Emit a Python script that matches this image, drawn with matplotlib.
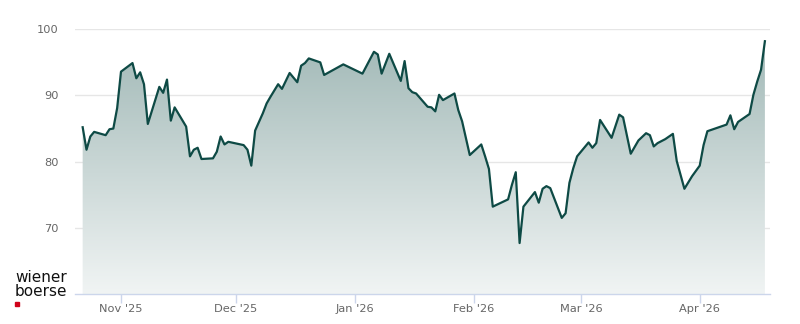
import numpy as np
import pandas as pd
import matplotlib
matplotlib.use('Agg')
import matplotlib.pyplot as plt
import matplotlib.dates as mdates

# Kursverlauf
dates = [
    '2025-10-22', '2025-10-23', '2025-10-24', '2025-10-25', '2025-10-28',
    '2025-10-29', '2025-10-30', '2025-10-31', '2025-11-01', '2025-11-04',
    '2025-11-05', '2025-11-06', '2025-11-07', '2025-11-08', '2025-11-11',
    '2025-11-12', '2025-11-13', '2025-11-14', '2025-11-15', '2025-11-18',
    '2025-11-19', '2025-11-20', '2025-11-21', '2025-11-22', '2025-11-25',
    '2025-11-26', '2025-11-27', '2025-11-28', '2025-11-29', '2025-12-03',
    '2025-12-04', '2025-12-05', '2025-12-06', '2025-12-08', '2025-12-09',
    '2025-12-10', '2025-12-12', '2025-12-13', '2025-12-15', '2025-12-17',
    '2025-12-18', '2025-12-19', '2025-12-20', '2025-12-23', '2025-12-24',
    '2025-12-29', '2026-01-03', '2026-01-06', '2026-01-07', '2026-01-08',
    '2026-01-10', '2026-01-13', '2026-01-14', '2026-01-15', '2026-01-16',
    '2026-01-17', '2026-01-20', '2026-01-21', '2026-01-22', '2026-01-23',
    '2026-01-24', '2026-01-27', '2026-01-28', '2026-01-29', '2026-01-31',
    '2026-02-03', '2026-02-04', '2026-02-05', '2026-02-06', '2026-02-10',
    '2026-02-11', '2026-02-12', '2026-02-13', '2026-02-14', '2026-02-17',
    '2026-02-18', '2026-02-19', '2026-02-20', '2026-02-21', '2026-02-24',
    '2026-02-25', '2026-02-26', '2026-02-27', '2026-02-28', '2026-03-03',
    '2026-03-04', '2026-03-05', '2026-03-06', '2026-03-09', '2026-03-11',
    '2026-03-12', '2026-03-14', '2026-03-16', '2026-03-18', '2026-03-19',
    '2026-03-20', '2026-03-21', '2026-03-23', '2026-03-25', '2026-03-26',
    '2026-03-28', '2026-03-30', '2026-04-01', '2026-04-02', '2026-04-03',
    '2026-04-08', '2026-04-09', '2026-04-10', '2026-04-11', '2026-04-14',
    '2026-04-15', '2026-04-16', '2026-04-17', '2026-04-18',
]
prices = [
    85.2, 81.8, 83.8, 84.5, 84.0,
    84.9, 85.0, 88.1, 93.6, 94.9,
    92.6, 93.5, 91.7, 85.7, 91.3,
    90.4, 92.4, 86.2, 88.2, 85.3,
    80.8, 81.8, 82.1, 80.4, 80.5,
    81.5, 83.8, 82.6, 83.0, 82.5,
    81.8, 79.4, 84.7, 87.3, 88.8,
    89.8, 91.7, 91.0, 93.4, 92.0,
    94.5, 94.9, 95.6, 95.0, 93.1,
    94.7, 93.3, 96.6, 96.2, 93.3,
    96.3, 92.2, 95.2, 91.1, 90.5,
    90.3, 88.3, 88.2, 87.6, 90.1,
    89.3, 90.3, 87.8, 86.1, 81.0,
    82.6, 80.8, 78.9, 73.2, 74.3,
    76.5, 78.4, 67.7, 73.2, 75.4,
    73.8, 75.9, 76.3, 76.0, 71.5,
    72.2, 76.8, 79.0, 80.8, 82.9,
    82.1, 82.8, 86.3, 83.6, 87.1,
    86.7, 81.2, 83.2, 84.3, 84.0,
    82.3, 82.8, 83.4, 84.2, 80.1,
    75.9, 77.8, 79.4, 82.5, 84.6,
    85.6, 87.0, 84.9, 86.0, 87.2,
    90.1, 92.1, 93.9, 98.2,
]
y_ticks = [70, 80, 90, 100]

line_color = '#0e4a45'
grid_color = '#e6e6e6'
axis_color = '#ccd6eb'
label_color = '#666666'

fig = plt.figure(figsize=(8, 3.24), dpi=100)
ax = fig.add_axes([75 / 800, 30 / 324, 695 / 800, 264.7 / 324])

x = mdates.date2num(pd.to_datetime(dates))
ymin, ymax = 60, 100
xmin = mdates.date2num(pd.Timestamp('2025-10-20'))
xmax = mdates.date2num(pd.Timestamp('2026-04-19 08:00'))

# Fläche mit Farbverlauf (oben dunkler, unten fast weiß), deckend
poly = ax.fill_between(x, prices, ymin, facecolor='none', edgecolor='none')
alpha = np.linspace(0.06, 0.40, 256)[:, None]
base = np.array(matplotlib.colors.to_rgb(line_color))
grad = np.ones((256, 1, 3)) * (1 - alpha[..., None]) + base * alpha[..., None]
im = ax.imshow(grad, extent=[xmin, xmax, ymin, ymax], origin='lower',
               aspect='auto', interpolation='bilinear', zorder=1)
im.set_clip_path(poly.get_paths()[0], transform=ax.transData)

ax.plot(x, prices, color=line_color, lw=1.6, zorder=3,
        solid_joinstyle='round')

ax.set_xlim(xmin, xmax)
ax.set_ylim(ymin, ymax)
ax.set_yticks(y_ticks)
ax.grid(axis='y', color=grid_color, lw=1, zorder=0)
ax.set_axisbelow(True)

ax.xaxis.set_major_locator(mdates.MonthLocator())
ax.xaxis.set_major_formatter(mdates.DateFormatter("%b '%y"))

for s in ['top', 'right', 'left']:
    ax.spines[s].set_visible(False)
ax.spines['bottom'].set_color(axis_color)
ax.spines['bottom'].set_linewidth(1)
ax.spines['bottom'].set_zorder(4)

ax.tick_params(axis='x', colors=axis_color, length=6.5, width=1,
               labelcolor=label_color, labelsize=8.2, pad=1)
ax.tick_params(axis='y', length=0, labelcolor=label_color,
               labelsize=8.2, pad=12)

# Logo
fig.text(15 / 800, 1 - 277 / 324, 'wiener', fontsize=11, color='#111111',
         va='center', ha='left')
fig.text(15 / 800, 1 - 291 / 324, 'boerse', fontsize=11, color='#111111',
         va='center', ha='left')
fig.patches.append(plt.Rectangle((15 / 800, 1 - 306 / 324), 4 / 800, 4 / 324,
                                 transform=fig.transFigure,
                                 color='#d0021b', figure=fig))

fig.savefig('out.png', dpi=100)
